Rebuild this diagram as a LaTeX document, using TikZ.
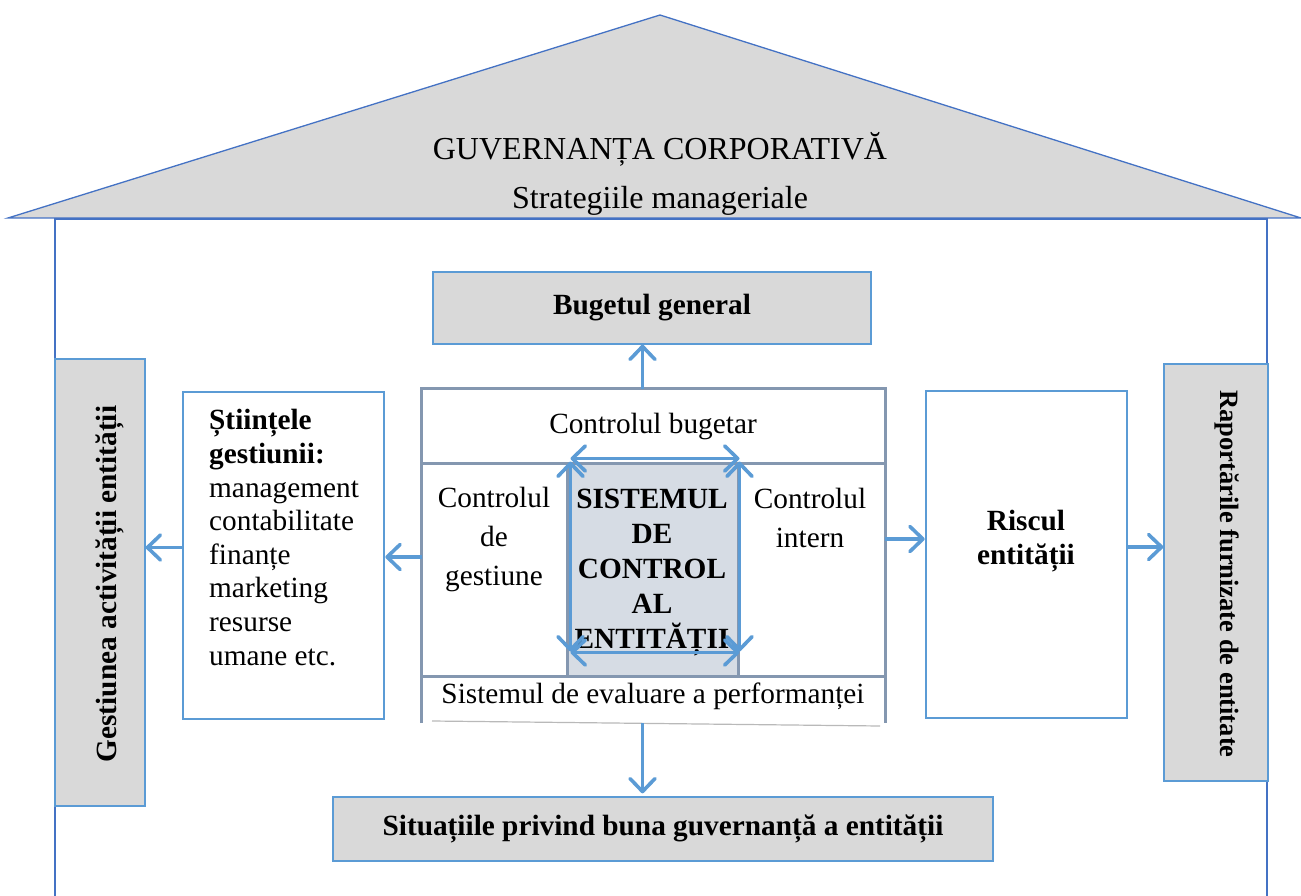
\documentclass[tikz,border=0pt]{standalone}
\usepackage{fontspec}
\setmainfont{Liberation Serif}
\usetikzlibrary{arrows.meta}

\definecolor{roofgrey}{HTML}{D9D9D9}
\definecolor{wallblue}{HTML}{4472C4}
\definecolor{accent}{HTML}{5B9BD5}
\definecolor{slate}{HTML}{8497B0}
\definecolor{corefill}{HTML}{D6DCE4}

\newcommand\diagtxt{\fontsize{29.3}{33.6}\selectfont}
\newcommand\rooftxt{\fontsize{32}{38}\selectfont}

\tikzset{
  barb/.tip={Straight Barb[length=13pt,width=25pt,line width=3.6pt,round]},
  greybox/.style={draw=accent, line width=1.3, fill=roofgrey},
  bluebox/.style={draw=accent, line width=2.6, fill=white},
  flow/.style={draw=accent, line width=3.4, -barb},
  loop/.style={draw=accent, line width=3.4, barb-barb},
  frame/.style={draw=slate, line width=3},
}

\begin{document}
\begin{tikzpicture}[x=1pt, y=-1pt, every node/.style={inner sep=0pt, font=\diagtxt}]
\useasboundingbox (0,0) rectangle (1301,896);

% roof
\draw[wallblue, line width=1.3, fill=roofgrey] (8,218) -- (660,15) -- (1301,218) -- cycle;
\node[font=\rooftxt, anchor=base] (gov) at (660,160) {GUVERNANȚA CORPORATIVĂ};
\node[font=\rooftxt, anchor=base] (strat) at (660,208) {Strategiile manageriale};

% walls of the house
\draw[wallblue, line width=2] (55,896) -- (55,219) -- (1267,219) -- (1267,896);

% side pillars
\node[greybox, minimum width=90, minimum height=447] (act) at (100,582.5) {};
\node[rotate=90, font=\diagtxt\bfseries] (actlbl) at (110,584) {Gestiunea activității entității};
\node[greybox, minimum width=104, minimum height=417] (rep) at (1216,572.5) {};
\node[rotate=-90, font=\fontsize{26.5}{30}\selectfont\bfseries] (replbl) at (1227,574) {Raportările furnizate de entitate};

% management sciences and entity risk
\node[bluebox, minimum width=201, minimum height=327] (sci) at (283.5,555.5) {};
\node[anchor=base west, align=left] (scilbl) at (209,665)
  {\textbf{Științele}\\\textbf{gestiunii:}\\management\\contabilitate\\finanțe\\marketing\\resurse\\umane etc.};
\node[bluebox, minimum width=201, minimum height=327] (risk) at (1026.5,554.5) {};
\node[anchor=base, align=center, font=\diagtxt\bfseries] (risklbl) at (1026,564) {Riscul\\entității};

% general budget and governance statements
\node[greybox, minimum width=438, minimum height=72] (budget) at (652,308) {\bfseries Bugetul general};
\node[greybox, minimum width=660, minimum height=64] (report) at (663,829)
  {\bfseries Situațiile privind buna guvernanță a entității};

% central control block
\node[minimum width=463, minimum height=334] (ctrl) at (653.5,556) {};
\node[frame, fill=corefill, minimum width=171, minimum height=213] (core) at (652.5,569.5) {};
\draw[frame] (ctrl.south west) -- (ctrl.north west) -- (ctrl.north east) -- (ctrl.south east);
\draw[frame] (422,463) -- (885,463);
\draw[frame] (422,676) -- (885,676);
\draw[gray!55, line width=1.2] (432,721) -- (880,726);

\node[anchor=base] (budctl) at (653,433) {Controlul bugetar};
\node[anchor=base, align=center] (mgmtctl) at (494,585) {Controlul\\[5pt]de\\[5pt]gestiune};
\node[anchor=base, align=center] (intctl) at (810,547) {Controlul\\[5pt]intern};
\node[anchor=base, align=center, font=\fontsize{29.3}{35}\selectfont\bfseries] (corelbl) at (652,648)
  {SISTEMUL\\DE\\CONTROL\\AL\\ENTITĂȚII};
\node[anchor=base] (perf) at (653,703) {Sistemul de evaluare a performanței};

% loop of arrows round the core
\draw[loop] ([shift={(5,-3)}]core.north west) -- ([shift={(0,-3)}]core.north east);
\draw[loop] ([shift={(5,0)}]core.north west) -- ([shift={(5,-26)}]core.south west);
\draw[loop] ([shift={(5,-25)}]core.south west) -- ([shift={(0,-25)}]core.south east);
\draw[loop] (core.north east) -- ([shift={(0,-26)}]core.south east);

% flows out of the central block
\draw[flow] ([shift={(-11,0)}]ctrl.north) -- ([shift={(-11,0)}]ctrl.north |- budget.south);
\draw[flow] ([shift={(-11,0)}]ctrl.south) -- ([shift={(-11,-3)}]ctrl.south |- report.north);
\draw[flow] ([shift={(0,1)}]ctrl.west) -- ([shift={(0,1)}]ctrl.west -| sci.east);
\draw[flow] ([shift={(0,-8)}]sci.west) -- ([shift={(0,-8)}]sci.west -| act.east);
\draw[flow] ([shift={(0,-17)}]ctrl.east) -- ([shift={(0,-17)}]ctrl.east -| risk.west);
\draw[flow] ([shift={(0,-7.5)}]risk.east) -- ([shift={(0,-7.5)}]risk.east -| rep.west);
\end{tikzpicture}
\end{document}
